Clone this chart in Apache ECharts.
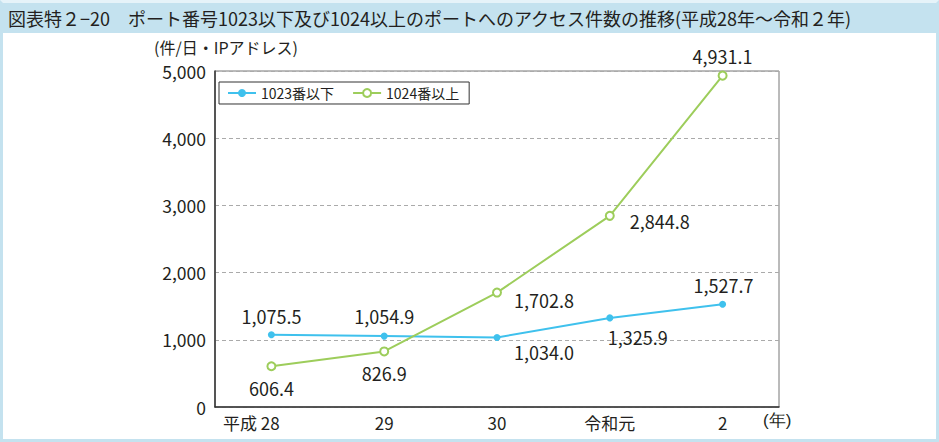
<!DOCTYPE html>
<html lang="ja">
<head>
<meta charset="utf-8">
<title>ポートへのアクセス件数の推移</title>
<script src="https://cdn.jsdelivr.net/npm/echarts@6/dist/echarts.min.js"></script>
<style>
  html, body { margin: 0; padding: 0; background: #fff; }
  #wrap { position: relative; width: 939px; height: 442px; overflow: hidden;
    font-family: "Noto Sans CJK JP", "Noto Sans", sans-serif; color: #231f20; }
  #chart { position: absolute; left: 0; top: 0; width: 939px; height: 442px; }
  #frame { position: absolute; left: 0; top: 0; width: 939px; height: 442px; box-sizing: border-box;
    border: 3px solid #c4e2ef; border-top-color: #e6f3f9; pointer-events: none; }
  #title { position: absolute; left: 0; top: 3px; width: 939px; height: 30px; background: #c4e2ef;
    font-size: 18px; line-height: 30px; padding-left: 8px; box-sizing: border-box; white-space: nowrap; }
</style>
</head>
<body>
<div id="wrap">
  <div id="chart"></div>
  <div id="frame"></div>
  <div id="title">図表特２−20　ポート番号1023以下及び1024以上のポートへのアクセス件数の推移(平成28年～令和２年)</div>
</div>
<script>
// ---- データ ----
const years = ['28', '29', '30', '令和元', '2'];
const yearPrefix = '平成';
const below1023 = [1075.5, 1054.9, 1034.0, 1325.9, 1527.7];
const above1024 = [606.4, 826.9, 1702.8, 2844.8, 4931.1];
const seriesNames = ['1023番以下', '1024番以上'];
const yTicks = { min: 0, max: 5000, step: 1000 };

// ラベル位置（点からのずれ）
const offBelow = [[0, -19], [0, -20], [47, 14], [28, 19], [1, -19]];
const offAbove = [[0, 22], [0, 22], [47, 7], [50, 5], [0, -20]];

const FONT = '"Noto Sans CJK JP", "Noto Sans", sans-serif';
const INK = '#231f20';
const fmt = v => v.toLocaleString('en-US', { minimumFractionDigits: 1, maximumFractionDigits: 1 });

function withLabels(values, offsets) {
  return values.map((v, i) => ({
    value: v,
    label: { offset: offsets[i] }
  }));
}

const labelBase = {
  show: true, position: 'inside', color: INK, fontSize: 18, fontFamily: FONT,
  textBorderWidth: 0, formatter: p => fmt(p.value)
};

const chart = echarts.init(document.getElementById('chart'), null, { renderer: 'svg' });
chart.setOption({
  animation: false,
  textStyle: { fontFamily: FONT, color: INK },
  grid: { left: 215, top: 71, right: 160, bottom: 35, show: true, borderColor: '#777', borderWidth: 1 },
  legend: {
    left: 219, top: 82, padding: [4, 10, 4, 8], itemGap: 18, itemWidth: 28, itemHeight: 10,
    borderColor: '#333', borderWidth: 1, backgroundColor: '#fff',
    textStyle: { fontSize: 14, color: INK, fontFamily: FONT },
    data: seriesNames
  },
  xAxis: {
    type: 'category', data: years, boundaryGap: true,
    axisLine: { lineStyle: { color: '#333', width: 1.5 } },
    axisTick: { inside: true, length: 8, lineStyle: { color: '#333' } },
    axisLabel: {
      fontSize: 17, color: INK, margin: 7, interval: 0,
      formatter: (v, i) => i === 0 ? '{p|' + yearPrefix + ' }' + v + '{s|}' : v,
      rich: { p: { fontSize: 17, color: INK }, s: { width: 40 } }
    }
  },
  yAxis: {
    type: 'value', min: yTicks.min, max: yTicks.max, interval: yTicks.step,
    name: '(件/日・IPアドレス)', nameLocation: 'end', nameGap: 15,
    nameTextStyle: { fontSize: 16, color: INK, lineHeight: 18, padding: [0, 0, 0, 22] },
    axisLine: { show: true, lineStyle: { color: '#333', width: 1.5 } },
    axisTick: { show: false },
    axisLabel: { fontSize: 17.5, color: INK, margin: 9, formatter: v => v.toLocaleString('en-US') },
    splitLine: { lineStyle: { color: '#aaa', type: [4, 3] } }
  },
  series: [
    {
      name: seriesNames[0], type: 'line', data: withLabels(below1023, offBelow),
      symbol: 'circle', symbolSize: 7,
      lineStyle: { color: '#3fc1ed', width: 2 },
      itemStyle: { color: '#3fc1ed' },
      label: labelBase
    },
    {
      name: seriesNames[1], type: 'line', data: withLabels(above1024, offAbove),
      symbol: 'emptyCircle', symbolSize: 8,
      lineStyle: { color: '#9dcd5b', width: 2 },
      itemStyle: { color: '#9dcd5b', borderWidth: 1.5 },
      label: labelBase
    }
  ],
  graphic: [
    { type: 'text', left: 763, top: 412, style: { text: '(年)', fontSize: 17, fill: INK, font: '17px ' + FONT } }
  ]
});
</script>
</body>
</html>
